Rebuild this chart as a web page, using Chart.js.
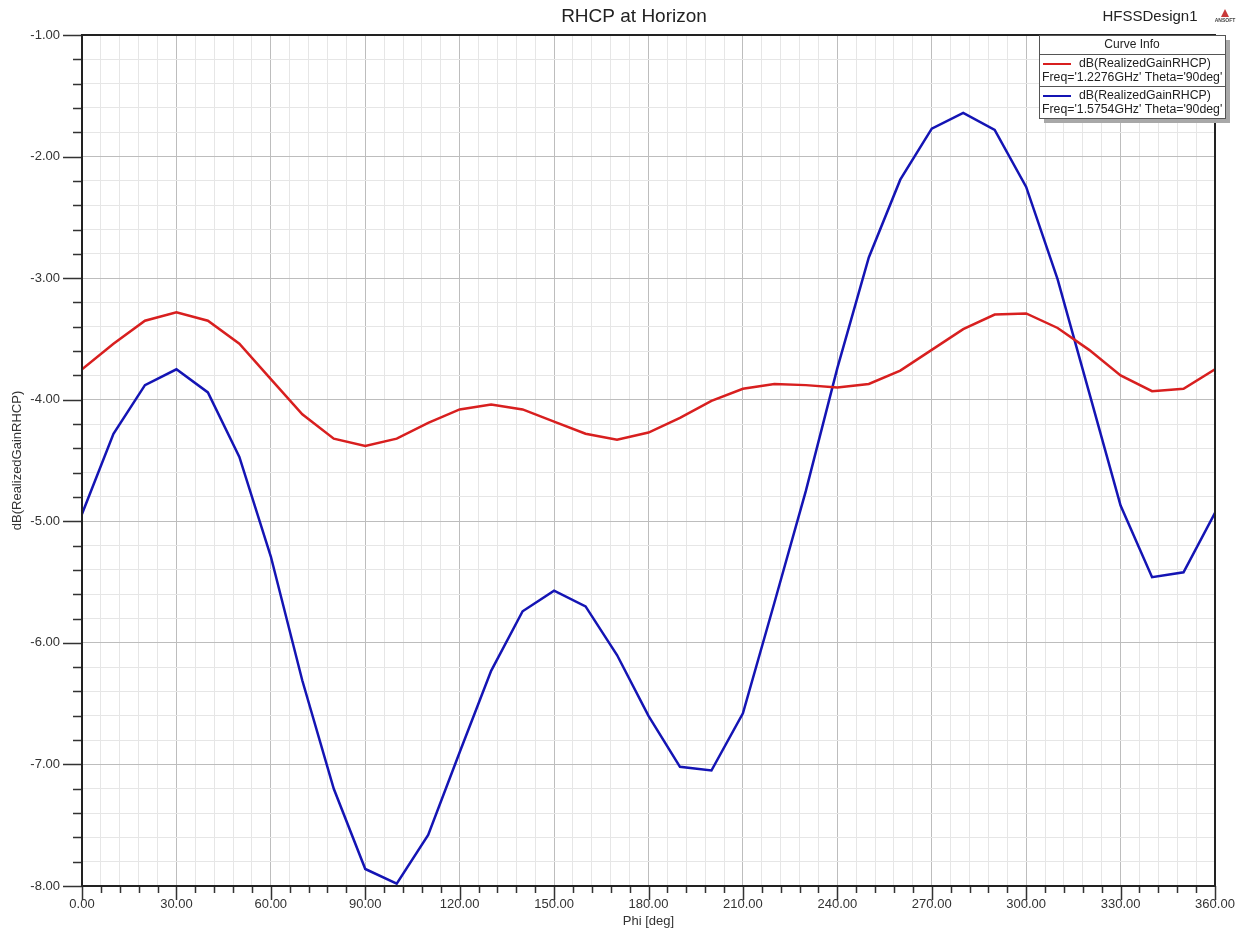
<!DOCTYPE html>
<html>
<head>
<meta charset="utf-8">
<title>RHCP at Horizon</title>
<script src="https://cdn.jsdelivr.net/npm/chart.js@4.4.0/dist/chart.umd.min.js"></script>
<style>
  html, body { margin: 0; padding: 0; background: #fff; }
</style>
</head>
<body>
<canvas id="gain" width="1242" height="930"></canvas>
<script>
(function () {
    "use strict";

    // Data (Phi in deg, gain in dB)
    var phi = [0, 10, 20, 30, 40, 50, 60, 70, 80, 90, 100, 110, 120, 130, 140, 150, 160, 170, 180,
               190, 200, 210, 220, 230, 240, 250, 260, 270, 280, 290, 300, 310, 320, 330, 340, 350, 360];
    var gain1227 = [-3.75, -3.54, -3.35, -3.28, -3.35, -3.54, -3.83, -4.12, -4.32, -4.38, -4.32, -4.19,
                    -4.08, -4.04, -4.08, -4.18, -4.28, -4.33, -4.27, -4.15, -4.01, -3.91, -3.87, -3.88,
                    -3.90, -3.87, -3.76, -3.59, -3.42, -3.30, -3.29, -3.41, -3.59, -3.80, -3.93, -3.91, -3.75];
    var gain1575 = [-4.94, -4.28, -3.88, -3.75, -3.94, -4.47, -5.29, -6.31, -7.20, -7.86, -7.98, -7.58,
                    -6.90, -6.23, -5.74, -5.57, -5.70, -6.10, -6.60, -7.02, -7.05, -6.58, -5.67, -4.75,
                    -3.74, -2.83, -2.19, -1.77, -1.64, -1.78, -2.25, -3.01, -3.94, -4.87, -5.46, -5.42, -4.93];
    var legendLabels = ["dB(RealizedGainRHCP)", "dB(RealizedGainRHCP)"];
    var legendInfo = ["Freq='1.2276GHz' Theta='90deg'", "Freq='1.5754GHz' Theta='90deg'"];

    var FONT = "'Liberation Sans', Arial, sans-serif";
    var RED = "#d81f1f";
    var BLUE = "#1414b4";

    function points(ys) {
        return phi.map(function (p, i) { return {x: p, y: ys[i]}; });
    }
    function isWhole(v) {
        return Math.abs(v - Math.round(v)) < 1e-6;
    }

    // Frame, tick marks, header texts and curve info box
    var decor = {
        id: "decor",
        afterDraw: function (chart) {
            var ctx = chart.ctx;
            var a = chart.chartArea;
            var xs = chart.scales.x, ys = chart.scales.y;
            ctx.save();

            // tick marks
            ctx.strokeStyle = "#333";
            ctx.lineWidth = 1.5;
            ctx.beginPath();
            xs.ticks.forEach(function (t) {
                var px = Math.round(xs.getPixelForValue(t.value)) + 0.5;
                var len = (t.value % 30 === 0) ? 14 : 7;
                ctx.moveTo(px, a.bottom);
                ctx.lineTo(px, a.bottom + len);
            });
            ys.ticks.forEach(function (t) {
                var py = Math.round(ys.getPixelForValue(t.value)) + 0.5;
                var len = isWhole(t.value) ? 19 : 9;
                ctx.moveTo(a.left, py);
                ctx.lineTo(a.left - len, py);
            });
            ctx.stroke();

            // frame
            ctx.lineWidth = 2;
            ctx.strokeStyle = "#222";
            ctx.strokeRect(a.left, a.top, a.right - a.left, a.bottom - a.top);

            // title
            ctx.fillStyle = "#222";
            ctx.textAlign = "center";
            ctx.textBaseline = "middle";
            ctx.font = "19px " + FONT;
            ctx.fillText("RHCP at Horizon", 634, 17);
            ctx.font = "15px " + FONT;
            ctx.fillText("HFSSDesign1", 1150, 17);

            // small logo
            ctx.fillStyle = "#c83a3a";
            ctx.beginPath();
            ctx.moveTo(1225, 9);
            ctx.lineTo(1229, 17);
            ctx.lineTo(1221, 17);
            ctx.closePath();
            ctx.fill();
            ctx.fillStyle = "#444";
            ctx.font = "bold 5px " + FONT;
            ctx.fillText("ANSOFT", 1225, 21);

            // curve info box
            var bx = 1039, by = 35, bw = 186, bh = 83;
            ctx.fillStyle = "#a8a8a8";
            ctx.fillRect(bx + 5, by + 5, bw, bh);
            ctx.fillStyle = "#fff";
            ctx.fillRect(bx, by, bw, bh);
            ctx.lineWidth = 1;
            ctx.strokeStyle = "#555";
            ctx.strokeRect(bx + 0.5, by + 0.5, bw, bh);
            ctx.beginPath();
            ctx.moveTo(bx, 54.5); ctx.lineTo(bx + bw, 54.5);
            ctx.moveTo(bx, 86.5); ctx.lineTo(bx + bw, 86.5);
            ctx.stroke();

            ctx.fillStyle = "#222";
            ctx.font = "12px " + FONT;
            ctx.textAlign = "center";
            ctx.fillText("Curve Info", bx + bw / 2, 45);

            var colors = [RED, BLUE];
            [0, 1].forEach(function (i) {
                var y0 = 64 + i * 32;
                ctx.strokeStyle = colors[i];
                ctx.lineWidth = 2;
                ctx.beginPath();
                ctx.moveTo(1043, y0);
                ctx.lineTo(1071, y0);
                ctx.stroke();
                ctx.fillStyle = "#222";
                ctx.font = "12.3px " + FONT;
                ctx.textAlign = "left";
                ctx.fillText(legendLabels[i], 1079, y0);
                ctx.fillText(legendInfo[i], 1042, y0 + 14);
            });

            ctx.restore();
        }
    };

    new Chart(document.getElementById("gain"), {
        type: "line",
        data: {
            datasets: [{
                    label: legendLabels[0] + " " + legendInfo[0],
                    data: points(gain1227),
                    borderColor: RED,
                    borderWidth: 2.5,
                    pointRadius: 0,
                    tension: 0,
                    fill: false
                },
                {
                    label: legendLabels[1] + " " + legendInfo[1],
                    data: points(gain1575),
                    borderColor: BLUE,
                    borderWidth: 2.5,
                    pointRadius: 0,
                    tension: 0,
                    fill: false
                }
            ]
        },
        options: {
            responsive: false,
            animation: false,
            layout: {padding: {top: 35, right: 27, left: 0, bottom: 0}},
            plugins: {
                legend: {display: false},
                tooltip: {enabled: false}
            },
            scales: {
                x: {
                    type: "linear",
                    min: 0,
                    max: 360,
                    afterFit: function (s) {
                        s.height = 44;
                        s.paddingLeft = 0;
                        s.paddingRight = 0;
                    },
                    ticks: {
                        stepSize: 6,
                        autoSkip: false,
                        maxRotation: 0,
                        padding: 11,
                        color: "#333",
                        font: {family: FONT, size: 13},
                        callback: function (v) { return v % 30 === 0 ? v.toFixed(2) : ""; }
                    },
                    grid: {
                        drawTicks: false,
                        color: function (c) { return c.tick && c.tick.value % 30 === 0 ? "#bdbdbd" : "#e6e6e6"; }
                    },
                    border: {display: true, color: "#222", width: 2},
                    title: {
                        display: true,
                        text: "Phi [deg]",
                        color: "#333",
                        font: {family: FONT, size: 13},
                        padding: {top: 0, bottom: 1}
                    }
                },
                y: {
                    min: -8,
                    max: -1,
                    afterFit: function (s) {
                        s.width = 82;
                        s.paddingTop = 0;
                        s.paddingBottom = 0;
                    },
                    ticks: {
                        stepSize: 0.2,
                        autoSkip: false,
                        padding: 22,
                        color: "#333",
                        font: {family: FONT, size: 13},
                        callback: function (v) { return isWhole(v) ? v.toFixed(2) : ""; }
                    },
                    grid: {
                        drawTicks: false,
                        color: function (c) { return c.tick && isWhole(c.tick.value) ? "#bdbdbd" : "#e6e6e6"; }
                    },
                    border: {display: true, color: "#222", width: 2},
                    title: {
                        display: true,
                        text: "dB(RealizedGainRHCP)",
                        color: "#333",
                        font: {family: FONT, size: 13},
                        padding: {top: 10, bottom: 0}
                    }
                }
            }
        },
        plugins: [decor]
    });
})();
</script>
</body>
</html>
